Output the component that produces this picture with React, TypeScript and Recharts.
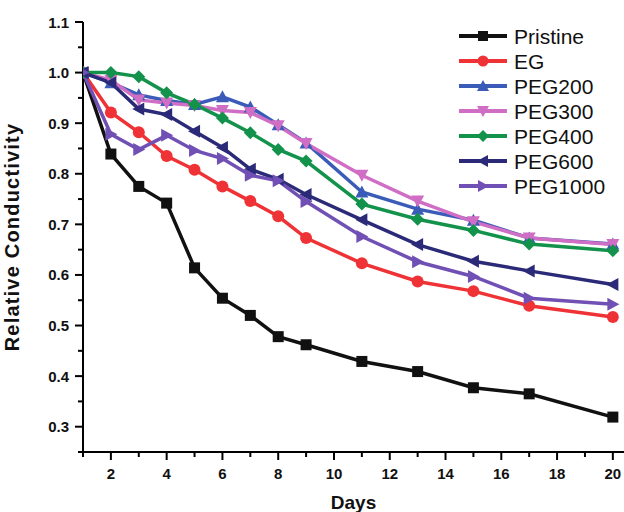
import React from "react";
import { LineChart, Line, XAxis, YAxis, Legend } from "recharts";

const days = [1, 2, 3, 4, 5, 6, 7, 8, 9, 11, 13, 15, 17, 20];

const pristine = [1.0, 0.839, 0.775, 0.742, 0.614, 0.554, 0.52, 0.478, 0.462, 0.429, 0.409, 0.377, 0.365, 0.319];
const eg = [1.0, 0.921, 0.882, 0.835, 0.808, 0.775, 0.746, 0.716, 0.673, 0.623, 0.587, 0.568, 0.539, 0.517];
const peg200 = [1.0, 0.98, 0.956, 0.945, 0.937, 0.952, 0.932, 0.897, 0.861, 0.764, 0.73, 0.708, 0.673, 0.661];
const peg300 = [1.0, 0.985, 0.946, 0.94, 0.935, 0.925, 0.921, 0.895, 0.86, 0.797, 0.746, 0.705, 0.673, 0.66];
const peg400 = [1.0, 1.0, 0.992, 0.96, 0.937, 0.91, 0.881, 0.848, 0.825, 0.74, 0.71, 0.688, 0.661, 0.648];
const peg600 = [1.0, 0.98, 0.928, 0.917, 0.884, 0.852, 0.809, 0.789, 0.759, 0.709, 0.66, 0.627, 0.608, 0.581];
const peg1000 = [1.0, 0.878, 0.848, 0.876, 0.846, 0.83, 0.797, 0.786, 0.745, 0.676, 0.626, 0.597, 0.554, 0.542];

const xTicks = [1, 2, 3, 4, 5, 6, 7, 8, 9, 10, 11, 12, 13, 14, 15, 16, 17, 18, 19, 20];
const yTicks = [0.25, 0.3, 0.35, 0.4, 0.45, 0.5, 0.55, 0.6, 0.65, 0.7, 0.75, 0.8, 0.85, 0.9, 0.95, 1.0, 1.05, 1.1];

type Shape = "square" | "circle" | "up" | "down" | "diamond" | "left" | "right";

const series: { key: string; name: string; values: number[]; color: string; shape: Shape }[] = [
  { key: "pristine", name: "Pristine", values: pristine, color: "#111111", shape: "square" },
  { key: "eg", name: "EG", values: eg, color: "#ef3236", shape: "circle" },
  { key: "peg200", name: "PEG200", values: peg200, color: "#3a5cb8", shape: "up" },
  { key: "peg300", name: "PEG300", values: peg300, color: "#d06dc4", shape: "down" },
  { key: "peg400", name: "PEG400", values: peg400, color: "#12924a", shape: "diamond" },
  { key: "peg600", name: "PEG600", values: peg600, color: "#2b2a78", shape: "left" },
  { key: "peg1000", name: "PEG1000", values: peg1000, color: "#7050b4", shape: "right" },
];

const data = days.map((day, i) => {
  const row: Record<string, number> = { day };
  series.forEach((s) => (row[s.key] = s.values[i]));
  return row;
});

const FONT = '"Liberation Sans", Arial, sans-serif';

function Marker({ shape, cx, cy, color, size = 10 }: { shape: Shape; cx: number; cy: number; color: string; size?: number }) {
  const h = size / 2;
  switch (shape) {
    case "square":
      return <rect x={cx - h} y={cy - h} width={size} height={size} fill={color} />;
    case "circle":
      return <circle cx={cx} cy={cy} r={h + 0.5} fill={color} />;
    case "up":
      return <polygon points={`${cx},${cy - h - 1} ${cx - h - 1},${cy + h} ${cx + h + 1},${cy + h}`} fill={color} />;
    case "down":
      return <polygon points={`${cx},${cy + h + 1} ${cx - h - 1},${cy - h} ${cx + h + 1},${cy - h}`} fill={color} />;
    case "left":
      return <polygon points={`${cx - h - 1},${cy} ${cx + h},${cy - h - 1} ${cx + h},${cy + h + 1}`} fill={color} />;
    case "right":
      return <polygon points={`${cx + h + 1},${cy} ${cx - h},${cy - h - 1} ${cx - h},${cy + h + 1}`} fill={color} />;
    default:
      return <polygon points={`${cx},${cy - h - 1} ${cx + h + 1},${cy} ${cx},${cy + h + 1} ${cx - h - 1},${cy}`} fill={color} />;
  }
}

function XTick(props: any) {
  const { x, y, payload } = props;
  const major = payload.value % 2 === 0;
  return (
    <g>
      <line x1={x} x2={x} y1={y} y2={y + (major ? 8 : 5)} stroke="#000" strokeWidth={2} />
      {major && (
        <text x={x} y={y + 27} textAnchor="middle" fontFamily={FONT} fontSize={15} fontWeight="bold" fill="#111">
          {payload.value}
        </text>
      )}
    </g>
  );
}

function YTick(props: any) {
  const { x, y, payload } = props;
  const major = Math.round(payload.value * 100) % 10 === 0;
  return (
    <g>
      <line x1={x - (major ? 8 : 5)} x2={x} y1={y} y2={y} stroke="#000" strokeWidth={2} />
      {major && (
        <text x={x - 14} y={y + 5.5} textAnchor="end" fontFamily={FONT} fontSize={15} fontWeight="bold" fill="#111">
          {payload.value.toFixed(1)}
        </text>
      )}
    </g>
  );
}

function renderLegend() {
  return (
    <svg width={170} height={180}>
      {series.map((s, i) => {
        const cy = 12 + i * 25;
        return (
          <g key={s.key}>
            <line x1={4} x2={52} y1={cy} y2={cy} stroke={s.color} strokeWidth={4} />
            <Marker shape={s.shape} cx={28} cy={cy} color={s.color} size={10} />
            <text x={59} y={cy + 7.5} fontFamily={FONT} fontSize={21} fill="#111">
              {s.name}
            </text>
          </g>
        );
      })}
    </svg>
  );
}

export default function App() {
  return (
    <div style={{ position: "absolute", left: 0, top: 0, background: "#fff" }}>
      <LineChart width={624} height={512} data={data} margin={{ top: 22, right: 0, bottom: 0, left: 0 }}>
        <XAxis
          dataKey="day"
          type="number"
          domain={[1, 20.4]}
          ticks={xTicks}
          interval={0}
          allowDataOverflow
          height={60}
          tickSize={0}
          tickMargin={0}
          tickLine={false}
          axisLine={{ stroke: "#000", strokeWidth: 2 }}
          tick={<XTick />}
          label={{
            value: "Days",
            position: "insideBottom",
            offset: 3,
            style: { fontFamily: FONT, fontSize: 19, fontWeight: "bold", fill: "#111" },
          }}
        />
        <YAxis
          type="number"
          domain={[0.25, 1.1]}
          ticks={yTicks}
          interval={0}
          allowDataOverflow
          width={83}
          tickSize={0}
          tickMargin={0}
          tickLine={false}
          axisLine={{ stroke: "#000", strokeWidth: 2 }}
          tick={<YTick />}
          label={{
            value: "Relative Conductivity",
            angle: -90,
            position: "insideLeft",
            offset: 0,
            dx: 12,
            dy: 0,
            style: { fontFamily: FONT, fontSize: 20, fontWeight: "bold", fill: "#111", letterSpacing: 1.2, textAnchor: "middle" },
          }}
        />
        <Legend
          layout="vertical"
          verticalAlign="middle"
          align="center"
          content={renderLegend}
          wrapperStyle={{ position: "absolute", top: 24, left: 455, width: 170, height: 180 }}
        />
        {series.map((s) => (
          <Line
            key={s.key}
            dataKey={s.key}
            name={s.name}
            stroke={s.color}
            strokeWidth={3.5}
            isAnimationActive={false}
            type="linear"
            dot={(p: any) => <Marker key={`${s.key}-${p.index}`} shape={s.shape} cx={p.cx} cy={p.cy} color={s.color} size={11} />}
            activeDot={false}
          />
        ))}
      </LineChart>
    </div>
  );
}
